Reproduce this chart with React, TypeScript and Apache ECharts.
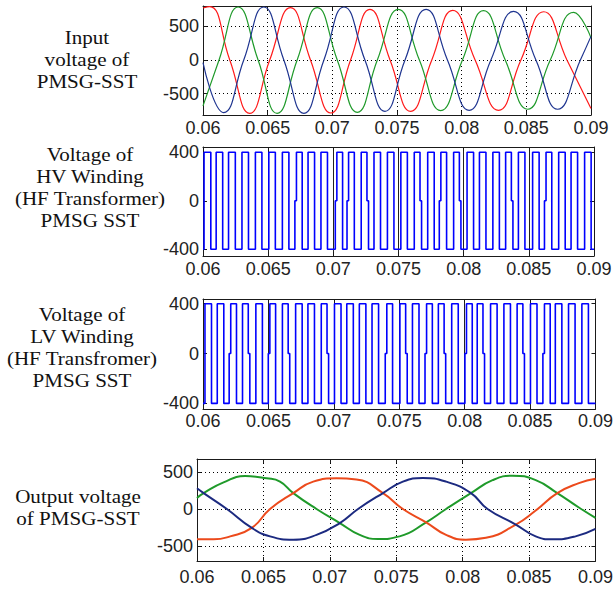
import React, { useEffect, useRef } from "react";
import * as echarts from "echarts";

// ---------- Panel 1: input voltage (three phases) ----------
const inRedT = [0.06, 0.06052, 0.06207, 0.06361, 0.06516, 0.06676, 0.06831, 0.06989, 0.07141, 0.07291, 0.07446, 0.07606, 0.07769, 0.07931, 0.08104, 0.08285, 0.08458, 0.08634, 0.08814, 0.09];
const inRedV = [770, 790, 0, -790, 0, 775, 0, -785, 0, 750, 0, -760, 0, 735, 0, -745, 0, 715, 0, -718];
const inGreenT = [0.06, 0.06124, 0.06271, 0.06426, 0.06573, 0.06728, 0.06883, 0.07038, 0.07193, 0.07348, 0.0751, 0.07673, 0.07838, 0.08006, 0.08169, 0.08337, 0.0851, 0.08685, 0.08866, 0.09];
const inGreenV = [-680, 0, 785, 0, -790, 0, 775, 0, -775, 0, 750, 0, -750, 0, 730, 0, -730, 0, 705, 330];
const inBlueT = [0.06, 0.0616, 0.06315, 0.0647, 0.06625, 0.0678, 0.06935, 0.0709, 0.07252, 0.07407, 0.07562, 0.07725, 0.0789, 0.08058, 0.08226, 0.08401, 0.08574, 0.08742, 0.08918, 0.09];
const inBlueV = [-40, -780, 0, 785, 0, -790, 0, 785, 0, -760, 0, 750, 0, -745, 0, 720, 0, -730, 0, 350];

// ---------- Panel 2: HV winding square wave ----------
const hvRise = [0.06008, 0.06101, 0.06196, 0.06299, 0.06402, 0.06505, 0.06609, 0.06711, 0.06806, 0.06905, 0.07021, 0.07111, 0.07214, 0.07312, 0.07415, 0.07518, 0.07621, 0.07724, 0.07819, 0.07923, 0.08026, 0.08121, 0.08224, 0.08322, 0.0842, 0.08529, 0.08626, 0.08729, 0.08824, 0.08928];
const hvFall = [0.0606, 0.06151, 0.06248, 0.06349, 0.06452, 0.06555, 0.06659, 0.06761, 0.06856, 0.06955, 0.07071, 0.07161, 0.07264, 0.07362, 0.07465, 0.07568, 0.07671, 0.07774, 0.07869, 0.07973, 0.08076, 0.08171, 0.08274, 0.08372, 0.0847, 0.08579, 0.08676, 0.08779, 0.08874, 0.08978];
const hvZeroSteps = [0.06711, 0.07021, 0.07111, 0.07264, 0.07671, 0.07819, 0.07973, 0.08372, 0.08626];

// ---------- Panel 3: LV winding square wave ----------
const lvRise = [0.06015, 0.06109, 0.06206, 0.06302, 0.06404, 0.06505, 0.06607, 0.06708, 0.06802, 0.06904, 0.07005, 0.07099, 0.07195, 0.07292, 0.07399, 0.07505, 0.07601, 0.07703, 0.07799, 0.07901, 0.08008, 0.08096, 0.08198, 0.083, 0.08401, 0.08503, 0.08604, 0.08693, 0.08794, 0.08896];
const lvFall = [0.06065, 0.06159, 0.06256, 0.06352, 0.06454, 0.06555, 0.06657, 0.06758, 0.06852, 0.06954, 0.07055, 0.07149, 0.07245, 0.07342, 0.07449, 0.07555, 0.07651, 0.07753, 0.07849, 0.07951, 0.08058, 0.08146, 0.08248, 0.0835, 0.08451, 0.08553, 0.08654, 0.08743, 0.08844, 0.08946];
const lvZeroSteps = [0.06206, 0.06352, 0.06505, 0.06657, 0.06954, 0.07399, 0.07555, 0.07703, 0.07849, 0.08008, 0.08146, 0.08451, 0.08604];
const squareHigh = 400;
const squareLow = -400;

// ---------- Panel 4: output voltage (three phases) ----------
const outGreenT = [0.06, 0.0605, 0.062, 0.063625, 0.06525, 0.06625, 0.06725, 0.069, 0.07075, 0.07225, 0.073625, 0.07525, 0.07725, 0.07875, 0.080625, 0.08225, 0.08375, 0.0855, 0.087125, 0.08875, 0.09];
const outGreenV = [150, 215, 360, 445, 415, 370, 215, 0, -190, -350, -405, -370, -180, 0, 215, 390, 450, 390, 215, 20, -120];
const outRedT = [0.06, 0.06125, 0.0625, 0.064125, 0.0655, 0.06725, 0.06875, 0.0705, 0.072, 0.074, 0.0755, 0.07725, 0.07875, 0.08025, 0.08175, 0.084, 0.0855, 0.087125, 0.08875, 0.09];
const outRedV = [-410, -410, -370, -255, 0, 215, 370, 415, 400, 215, 0, -180, -350, -415, -390, -210, -20, 215, 350, 410];
const outBlueT = [0.06, 0.0605, 0.06225, 0.064125, 0.0655, 0.06725, 0.069, 0.07075, 0.072125, 0.074, 0.0755, 0.077, 0.07875, 0.080625, 0.081875, 0.084, 0.0855, 0.08675, 0.0885, 0.09];
const outBlueV = [280, 215, 0, -255, -370, -415, -350, -190, 0, 215, 370, 420, 370, 215, 0, -210, -370, -410, -370, -270];

// ---------- axes ----------
const xMin = 0.06;
const xMax = 0.09;
const xStep = 0.005;
const yRanges = [[-815, 800], [-455, 443], [-445, 438], [-703, 676]];
const yTickValues = [[-500, 0, 500], [-400, 0, 400], [-400, 0, 400], [-500, 0, 500]];
const panelLabels = [
  "Input\nvoltage of\nPMSG-SST",
  "Voltage of\nHV Winding\n(HF Transformer)\nPMSG SST",
  "Voltage of\nLV Winding\n(HF Transfromer)\nPMSG SST",
  "Output voltage\nof PMSG-SST",
];

const zip = (t: number[], v: number[]) => t.map((x, i) => [x, v[i]]);

function squareWave(rise: number[], fall: number[], steps: number[]) {
  const d = 0.00012;
  const edges = [
    ...rise.map((t) => ({ t, up: true })),
    ...fall.map((t) => ({ t, up: false })),
  ].sort((a, b) => a.t - b.t);
  const pts: number[][] = [[xMin, squareLow]];
  let level = squareLow;
  for (const e of edges) {
    const from = e.up ? squareLow : squareHigh;
    const to = e.up ? squareHigh : squareLow;
    if (steps.includes(e.t)) {
      pts.push([e.t - d / 2, from], [e.t - d / 2, 0], [e.t + d / 2, 0], [e.t + d / 2, to]);
    } else {
      pts.push([e.t, from], [e.t, to]);
    }
    level = to;
  }
  pts.push([xMax, level]);
  return pts;
}

const SANS = "'Liberation Sans', Arial, Helvetica, sans-serif";
const SERIF = "'Liberation Serif', 'Times New Roman', Times, serif";

export default function App() {
  const ref = useRef<HTMLDivElement>(null);
  useEffect(() => {
    if (!ref.current) return;
    const chart = echarts.init(ref.current, undefined, { renderer: "svg" });

    const grids = [
      { left: 203, top: 6, width: 388, height: 109 },
      { left: 203, top: 147, width: 391, height: 109 },
      { left: 203, top: 299, width: 394, height: 110 },
      { left: 197, top: 459, width: 400, height: 102 },
    ];
    const xMargins = [4, 4, 3, 7];
    const dottedGrid = [true, false, false, true];
    const axisColor = "#1a1a1a";
    const labelStyle = {
      fontSize: 18,
      fontFamily: SANS,
      color: "#222",
    };

    const xAxis: any[] = [];
    const yAxis: any[] = [];
    grids.forEach((g, i) => {
      xAxis.push({
        type: "value",
        gridIndex: i,
        min: xMin,
        max: xMax,
        interval: xStep,
        axisLine: { show: true, onZero: false, lineStyle: { color: axisColor, width: 1 } },
        axisTick: { show: true, inside: true, length: 4, lineStyle: { color: axisColor } },
        axisLabel: {
          ...labelStyle,
          margin: xMargins[i],
          showMinLabel: true,
          showMaxLabel: true,
          formatter: (v: number) => String(Math.round(v * 1000) / 1000),
        },
        splitLine: {
          show: true,
          lineStyle: dottedGrid[i]
            ? { color: "#000", width: 1, type: [1, 3] }
            : { color: "#222", width: 1, type: "solid" },
        },
      });
      xAxis.push({
        type: "value",
        gridIndex: i,
        position: "top",
        min: xMin,
        max: xMax,
        interval: xStep,
        axisLine: { show: true, onZero: false, lineStyle: { color: axisColor, width: 1 } },
        axisTick: { show: true, inside: true, length: 4, lineStyle: { color: axisColor } },
        axisLabel: { show: false },
        splitLine: { show: false },
      });
      yAxis.push({
        type: "value",
        gridIndex: i,
        min: yRanges[i][0],
        max: yRanges[i][1],
        axisLine: { show: true, onZero: false, lineStyle: { color: axisColor, width: 1 } },
        axisTick: { show: true, inside: true, length: 4, customValues: yTickValues[i], lineStyle: { color: axisColor } },
        axisLabel: { ...labelStyle, margin: 4, customValues: yTickValues[i] },
        splitLine: {
          show: dottedGrid[i],
          lineStyle: { color: "#000", width: 1, type: [1, 3] },
        },
      });
      yAxis.push({
        type: "value",
        gridIndex: i,
        position: "right",
        min: yRanges[i][0],
        max: yRanges[i][1],
        axisLine: { show: true, onZero: false, lineStyle: { color: axisColor, width: 1 } },
        axisTick: { show: true, inside: true, length: 4, customValues: yTickValues[i], lineStyle: { color: axisColor } },
        axisLabel: { show: false },
        splitLine: { show: false },
      });
    });

    const line = (i: number, data: number[][], color: string, width: number, smooth: boolean | number) => ({
      type: "line",
      xAxisIndex: 2 * i,
      yAxisIndex: 2 * i,
      data,
      smooth,
      showSymbol: false,
      symbol: "none",
      lineStyle: { color, width },
      itemStyle: { color },
      silent: true,
    });

    const series = [
      line(0, zip(inRedT, inRedV), "#ff1a1a", 1.2, 0.5),
      line(0, zip(inGreenT, inGreenV), "#1f9a2a", 1.2, 0.5),
      line(0, zip(inBlueT, inBlueV), "#1f3590", 1.2, 0.5),
      line(1, squareWave(hvRise, hvFall, hvZeroSteps), "#0000ff", 1.6, false),
      line(2, squareWave(lvRise, lvFall, lvZeroSteps), "#0000ff", 1.6, false),
      line(3, zip(outGreenT, outGreenV), "#1f9a2a", 2, 0.5),
      line(3, zip(outRedT, outRedV), "#ec4a1c", 2, 0.5),
      line(3, zip(outBlueT, outBlueV), "#1c2a80", 2, 0.5),
    ];

    const labelPos = [[87, 60], [90, 188], [82, 348], [78, 508]];
    const graphic = panelLabels.map((text, i) => ({
      type: "text",
      x: labelPos[i][0],
      y: labelPos[i][1],
      scaleX: 1.17,
      silent: true,
      style: {
        text,
        font: "18px " + SERIF,
        fill: "#111",
        align: "center",
        verticalAlign: "middle",
        lineHeight: 22,
      },
    }));

    chart.setOption({
      animation: false,
      backgroundColor: "#ffffff",
      grid: grids.map((g) => ({ ...g, containLabel: false })),
      xAxis,
      yAxis,
      series,
      graphic,
    });
    return () => chart.dispose();
  }, []);

  return (
    <div
      ref={ref}
      style={{ position: "fixed", left: 0, top: 0, width: 616, height: 591, background: "#fff" }}
    />
  );
}
